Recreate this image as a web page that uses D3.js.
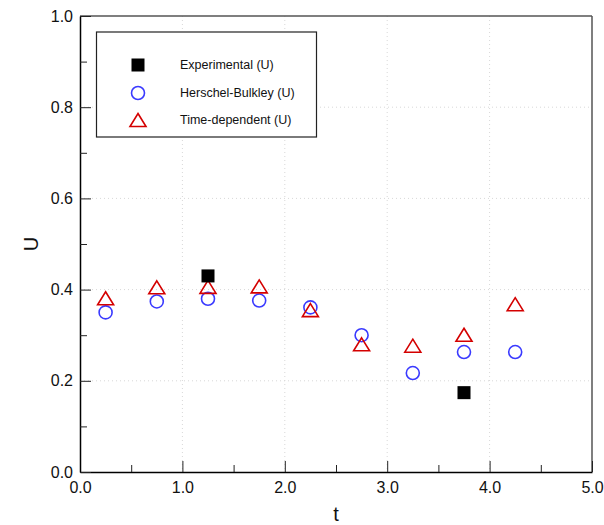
<!DOCTYPE html>
<html><head><meta charset="utf-8">
<script src="https://cdn.jsdelivr.net/npm/d3@7"></script>
<style>body{margin:0;background:#fff}svg{display:block;font-family:"Liberation Sans",Arial,sans-serif}</style>
</head><body><svg id="c" width="604" height="525"></svg>
<script>
const tValues = [0.25, 0.75, 1.25, 1.75, 2.25, 2.75, 3.25, 3.75, 4.25];
const expT = [1.25, 3.75];
const expU = [0.430, 0.174];
const hbU = [0.350, 0.374, 0.380, 0.376, 0.361, 0.300, 0.217, 0.263, 0.263];
const tdU = [0.381, 0.405, 0.406, 0.407, 0.355, 0.280, 0.277, 0.301, 0.368];
const xTicks = [0, 1, 2, 3, 4, 5];
const yTicks = [0, 0.2, 0.4, 0.6, 0.8, 1.0];
const xMinor = [0.5, 1.5, 2.5, 3.5, 4.5];
const yMinor = [0.1, 0.3, 0.5, 0.7, 0.9];
const legendLabels = ["Experimental (U)", "Herschel-Bulkley (U)", "Time-dependent (U)"];

const svg = d3.select("#c");
const L = 80, T = 16, R = 592, B = 472;
const x = d3.scaleLinear().domain([0, 5]).range([L, R]);
const y = d3.scaleLinear().domain([0, 1]).range([B, T]);

// grid
const g = svg.append("g");
g.selectAll(".gx").data(xTicks.slice(1, -1)).enter().append("line")
  .attr("x1", d => x(d)).attr("x2", d => x(d)).attr("y1", T).attr("y2", B)
  .attr("stroke", "#d8d8d8").attr("stroke-dasharray", "1,3");
g.selectAll(".gy").data(yTicks.slice(1, -1)).enter().append("line")
  .attr("y1", d => y(d)).attr("y2", d => y(d)).attr("x1", L).attr("x2", R)
  .attr("stroke", "#d8d8d8").attr("stroke-dasharray", "1,3");

// frame
svg.append("line").attr("x1", L).attr("x2", R).attr("y1", T).attr("y2", T).attr("stroke", "#555").attr("stroke-width", 1.5);
svg.append("line").attr("x1", R).attr("x2", R).attr("y1", T).attr("y2", B).attr("stroke", "#555").attr("stroke-width", 1.5);

// axes
const xAxis = d3.axisBottom(x).tickValues(xTicks).tickFormat(d3.format(".1f")).tickSizeInner(-11).tickSizeOuter(0).tickPadding(10);
const gx = svg.append("g").attr("transform", `translate(0,${B})`).call(xAxis);
const xAxisMinor = d3.axisBottom(x).tickValues(xMinor).tickFormat("").tickSizeInner(-7).tickSizeOuter(0);
svg.append("g").attr("transform", `translate(0,${B})`).call(xAxisMinor).select(".domain").remove();

const yAxis = d3.axisLeft(y).tickValues(yTicks).tickFormat(d3.format(".1f")).tickSizeInner(-11).tickSizeOuter(0).tickPadding(7);
const gy = svg.append("g").attr("transform", `translate(${L},0)`).call(yAxis);
const yAxisMinor = d3.axisLeft(y).tickValues(yMinor).tickFormat("").tickSizeInner(-7).tickSizeOuter(0);
svg.append("g").attr("transform", `translate(${L},0)`).call(yAxisMinor).select(".domain").remove();

svg.selectAll(".domain").attr("stroke", "#000").attr("stroke-width", 1.5);
svg.selectAll(".tick line").attr("stroke", "#222").attr("stroke-width", 1);
gx.selectAll("text").attr("font-size", 16).attr("fill", "#111").attr("font-family", "Liberation Sans, Arial, sans-serif");
gy.selectAll("text").attr("font-size", 16).attr("fill", "#111").attr("font-family", "Liberation Sans, Arial, sans-serif");

// axis titles
svg.append("text").attr("x", (L + R) / 2).attr("y", 521).attr("text-anchor", "middle")
  .attr("font-size", 20).attr("fill", "#111").text("t");
svg.append("text").attr("transform", `translate(38,${(T + B) / 2}) rotate(-90)`).attr("text-anchor", "middle")
  .attr("font-size", 20).attr("fill", "#111").text("U");

// markers
const blue = "#3a3aff", red = "#d40000";

svg.append("g").selectAll("circle").data(tValues).enter().append("circle")
  .attr("cx", d => x(d)).attr("cy", (d, i) => y(hbU[i])).attr("r", 6.5)
  .attr("fill", "none").attr("stroke", blue).attr("stroke-width", 1.6);

function triPath(cx, cy, w, h) {
  return `M${cx},${cy - h / 2}L${cx + w / 2},${cy + h / 2}L${cx - w / 2},${cy + h / 2}Z`;
}
svg.append("g").selectAll("path").data(tValues).enter().append("path")
  .attr("d", (d, i) => triPath(x(d), y(tdU[i]), 16, 13))
  .attr("fill", "none").attr("stroke", red).attr("stroke-width", 1.6);

svg.append("g").selectAll("rect").data(expT).enter().append("rect")
  .attr("x", d => x(d) - 6.5).attr("y", (d, i) => y(expU[i]) - 6.5)
  .attr("width", 13).attr("height", 13).attr("fill", "#000");

// legend
const lg = svg.append("g");
lg.append("rect").attr("x", 96.5).attr("y", 32).attr("width", 220).attr("height", 105)
  .attr("fill", "#fff").attr("stroke", "#222").attr("stroke-width", 1.2);
const rowsY = [65, 93, 120];
const sx = 138, tx = 180;
lg.append("rect").attr("x", sx - 6.5).attr("y", rowsY[0] - 6.5).attr("width", 13).attr("height", 13).attr("fill", "#000");
lg.append("circle").attr("cx", sx).attr("cy", rowsY[1]).attr("r", 6.5).attr("fill", "none").attr("stroke", blue).attr("stroke-width", 1.6);
lg.append("path").attr("d", triPath(sx, rowsY[2], 16, 13)).attr("fill", "none").attr("stroke", red).attr("stroke-width", 1.6);
lg.selectAll("text.l").data(legendLabels).enter().append("text")
  .attr("x", tx).attr("y", (d, i) => rowsY[i]).attr("dy", "0.35em")
  .attr("font-size", 12.5).attr("fill", "#111").text(d => d);
</script></body></html>
